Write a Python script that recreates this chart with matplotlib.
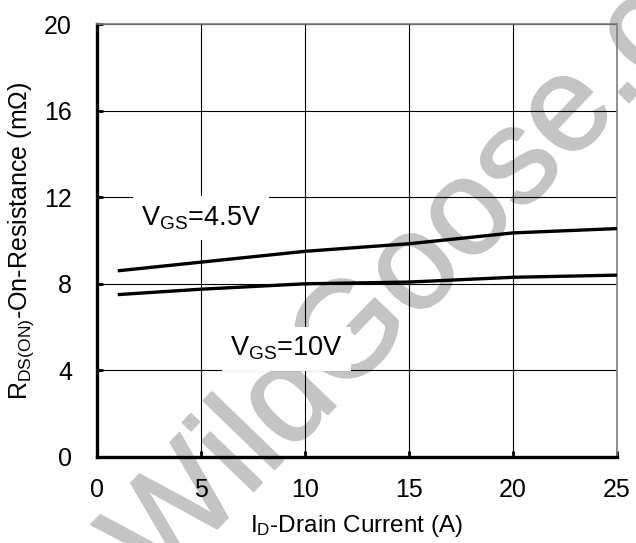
import matplotlib
matplotlib.use("Agg")
import matplotlib.pyplot as plt
import matplotlib.patheffects as pe

plt.rcParams['font.family'] = ['Liberation Sans', 'DejaVu Sans']
plt.rcParams['mathtext.fontset'] = 'custom'
plt.rcParams['mathtext.rm'] = 'Liberation Sans'

# Data
id_current = [1, 5, 10, 15, 20, 25]
r_vgs45 = [8.6, 9.0, 9.5, 9.85, 10.35, 10.55]
r_vgs10 = [7.5, 7.75, 8.0, 8.08, 8.3, 8.4]

x_ticks = [0, 5, 10, 15, 20, 25]
y_ticks = [0, 4, 8, 12, 16, 20]

fig = plt.figure(figsize=(6.36, 5.43), dpi=100)
ax = fig.add_axes([0.1525, 0.1584, 0.8175, 0.7974])
ax.set_zorder(2)
ax.patch.set_alpha(0)

ax.set_xlim(0, 25)
ax.set_ylim(0, 20)
ax.set_xticks(x_ticks)
ax.set_yticks(y_ticks)
ax.grid(True, color='black', linewidth=0.8, zorder=1)
ax.set_axisbelow(True)

ax.plot(id_current, r_vgs45, color='black', linewidth=2.4, zorder=4, solid_capstyle='butt')
ax.plot(id_current, r_vgs10, color='black', linewidth=2.4, zorder=4, solid_capstyle='butt')

for side in ['left', 'bottom']:
    ax.spines[side].set_linewidth(2.4)
    ax.spines[side].set_color('black')
for side in ['top', 'right']:
    ax.spines[side].set_linewidth(1.2)
    ax.spines[side].set_color('#808080')

ax.tick_params(direction='in', length=4, width=2, labelsize=18, pad=15)
ax.tick_params(axis='y', pad=18)

ax.set_xlabel(r'$\mathregular{I_D}$-Drain Current (A)', fontsize=17.5, labelpad=8)
ax.set_ylabel(r'$\mathregular{R_{DS(ON)}}$-On-Resistance (m$\mathregular{\Omega}$)', fontsize=18, labelpad=6)

box = dict(facecolor='white', edgecolor='none', pad=6)
ax.text(5.0, 11.05, r'$\mathregular{V_{GS}}$=4.5V', fontsize=19.5, ha='center', va='center', bbox=box, zorder=3)
ax.text(9.1, 5.0, r'$\mathregular{V_{GS}}$=10V', fontsize=19.5, ha='center', va='center', bbox=box, zorder=3)

# Watermark
wm_color = '#c4c4c4'
fig.text(158 / 636, 1 - 590 / 543, 'WildGoose.com', fontsize=98, color=wm_color,
         rotation=46, rotation_mode='anchor', ha='left', va='baseline', zorder=1,
         path_effects=[pe.Stroke(linewidth=1.5, foreground=wm_color), pe.Normal()])

fig.savefig('out.png', dpi=100)
